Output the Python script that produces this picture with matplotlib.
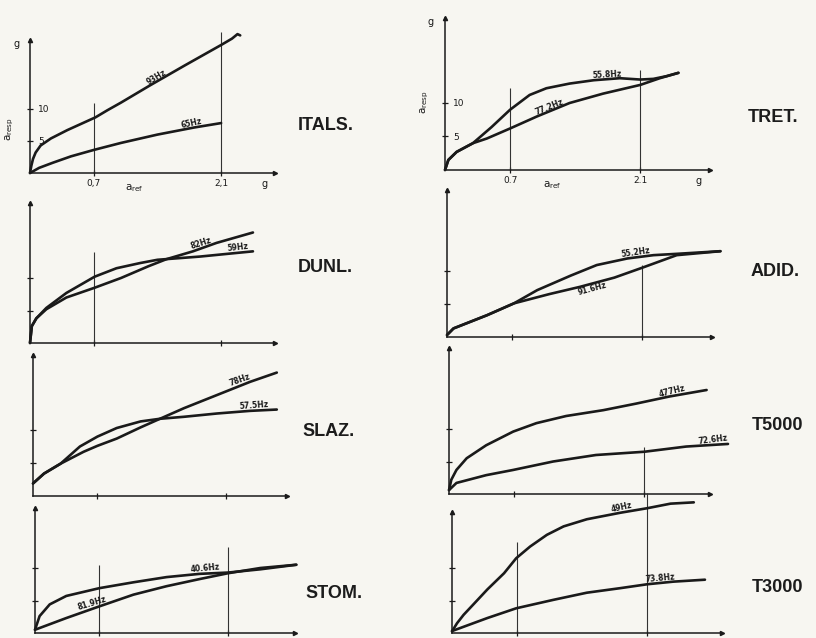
import matplotlib
matplotlib.use("Agg")
import matplotlib.pyplot as plt

W, H = 816, 638
BG = "#f7f6f1"
INK = "#1a1a1a"

# ---------------- data ----------------
# ITALS.
itals_93_x = [0, 0.015, 0.033, 0.062, 0.117, 0.23, 0.41, 0.72, 0.85, 1.00, 1.32, 1.70, 2.10, 2.22, 2.28, 2.31]
itals_93_y = [0, 1.15, 2.2, 3.2, 4.3, 5.4, 6.7, 8.7, 9.8, 11.0, 13.7, 16.8, 20.0, 21.0, 21.7, 21.5]
itals_65_x = [0, 0.10, 0.25, 0.45, 0.70, 1.00, 1.40, 1.80, 2.10]
itals_65_y = [0, 0.8, 1.6, 2.6, 3.6, 4.7, 6.0, 7.1, 7.8]

# TRET.
tret_558_x = [0, 0.036, 0.125, 0.30, 0.50, 0.70, 0.91, 1.09, 1.34, 1.60, 1.88, 2.10, 2.24, 2.38, 2.51]
tret_558_y = [0, 1.5, 2.7, 4.0, 6.4, 9.0, 11.2, 12.2, 12.9, 13.4, 13.7, 13.5, 13.6, 14.0, 14.5]
tret_772_x = [0, 0.036, 0.125, 0.30, 0.45, 0.70, 0.99, 1.34, 1.70, 2.10, 2.31, 2.51]
tret_772_y = [0, 1.5, 2.7, 4.0, 4.7, 6.2, 8.0, 10.0, 11.4, 12.7, 13.7, 14.5]

# DUNL.
dunl_59_x = [0, 0.02, 0.07, 0.18, 0.40, 0.71, 0.95, 1.21, 1.40, 1.87, 2.23, 2.45]
dunl_59_y = [0, 2.6, 3.8, 5.4, 7.7, 10.2, 11.5, 12.3, 12.8, 13.3, 13.8, 14.1]
dunl_82_x = [0, 0.02, 0.07, 0.18, 0.40, 0.71, 1.00, 1.30, 1.50, 1.79, 2.05, 2.45]
dunl_82_y = [0, 2.6, 3.8, 5.2, 7.0, 8.5, 10.0, 11.8, 12.9, 14.1, 15.4, 17.0]

# ADID.
adid_552_x = [0, 0.07, 0.43, 0.72, 0.97, 1.33, 1.61, 1.94, 2.22, 2.47, 2.94]
adid_552_y = [0.3, 1.3, 3.3, 5.1, 7.1, 9.3, 10.9, 11.9, 12.4, 12.6, 13.0]
adid_916_x = [0, 0.07, 0.43, 0.72, 1.10, 1.43, 1.80, 2.10, 2.47, 2.94]
adid_916_y = [0.3, 1.3, 3.3, 5.1, 6.5, 7.6, 9.0, 10.5, 12.4, 13.0]

# SLAZ.
slaz_575_x = [0, 0.12, 0.30, 0.51, 0.70, 0.91, 1.17, 1.38, 1.64, 2.00, 2.36, 2.65]
slaz_575_y = [1.9, 3.4, 4.9, 7.5, 9.0, 10.3, 11.3, 11.7, 12.0, 12.5, 12.9, 13.1]
slaz_78_x = [0, 0.12, 0.30, 0.55, 0.70, 0.91, 1.17, 1.38, 1.64, 2.00, 2.36, 2.65]
slaz_78_y = [1.9, 3.4, 4.9, 6.7, 7.6, 8.7, 10.4, 11.7, 13.3, 15.3, 17.3, 18.7]

# T5000
t5_477_x = [0, 0.025, 0.08, 0.19, 0.40, 0.69, 0.94, 1.26, 1.66, 2.01, 2.37, 2.77]
t5_477_y = [0.6, 2.2, 3.7, 5.5, 7.5, 9.6, 10.9, 12.0, 12.9, 13.9, 15.0, 16.0]
t5_726_x = [0, 0.08, 0.40, 0.69, 1.12, 1.58, 2.10, 2.55, 3.00]
t5_726_y = [0.6, 1.7, 2.9, 3.7, 5.0, 6.0, 6.5, 7.3, 7.7]

# STOM.
stom_406_x = [0, 0.05, 0.16, 0.34, 0.70, 1.07, 1.43, 1.79, 2.10, 2.45, 2.84]
stom_406_y = [0.5, 2.6, 4.4, 5.7, 6.9, 7.8, 8.6, 9.1, 9.3, 9.8, 10.5]
stom_819_x = [0, 0.34, 0.70, 1.07, 1.43, 1.79, 2.10, 2.45, 2.84]
stom_819_y = [0.5, 2.3, 4.1, 5.9, 7.2, 8.3, 9.2, 10.0, 10.5]

# T3000
t3_49_x = [0, 0.054, 0.125, 0.23, 0.38, 0.56, 0.69, 0.84, 1.02, 1.20, 1.45, 1.81, 2.10, 2.35, 2.60]
t3_49_y = [0.26, 1.5, 2.8, 4.4, 6.7, 9.2, 11.5, 13.3, 15.1, 16.4, 17.5, 18.5, 19.2, 19.9, 20.1]
t3_738_x = [0, 0.38, 0.69, 1.09, 1.45, 1.81, 2.10, 2.38, 2.72]
t3_738_y = [0.3, 2.3, 3.8, 5.1, 6.2, 6.9, 7.5, 7.9, 8.2]

panel_names = ["ITALS.", "TRET.", "DUNL.", "ADID.", "SLAZ.", "T5000", "STOM.", "T3000"]
x_ticks = [0.7, 2.1]
y_ticks = [5, 10]

# ---------------- layout ----------------
# (origin px x, origin px y, x-axis end px, y-axis top px, px per g in x, px per g in y)
geo = [
    (30, 173, 275, 40, 91, 6.4),
    (445, 170, 710, 18, 93, 6.7),
    (30, 343, 275, 203, 91, 6.5),
    (447, 337, 712, 190, 93, 6.6),
    (33, 496, 287, 355, 92, 6.6),
    (449, 494, 710, 348, 93, 6.5),
    (35, 633, 295, 508, 92, 6.5),
    (452, 633, 722, 512, 93, 6.5),
]
name_pos = [(298, 126), (748, 117), (298, 268), (751, 271),
            (302, 432), (752, 425), (305, 594), (752, 588)]

curves = [
    [(itals_93_x, itals_93_y, "93Hz", 1.42, 14.3, 31), (itals_65_x, itals_65_y, "65Hz", 1.78, 7.1, 12)],
    [(tret_558_x, tret_558_y, "55.8Hz", 1.74, 13.6, 3), (tret_772_x, tret_772_y, "77.2Hz", 1.14, 8.75, 22)],
    [(dunl_82_x, dunl_82_y, "82Hz", 1.90, 14.7, 18), (dunl_59_x, dunl_59_y, "59Hz", 2.29, 14.0, 6)],
    [(adid_552_x, adid_552_y, "55.2Hz", 2.04, 12.1, 8), (adid_916_x, adid_916_y, "91.6Hz", 1.57, 6.6, 15)],
    [(slaz_78_x, slaz_78_y, "78Hz", 2.27, 17.0, 20), (slaz_575_x, slaz_575_y, "57.5Hz", 2.41, 13.0, 4)],
    [(t5_477_x, t5_477_y, "477Hz", 2.41, 15.2, 14), (t5_726_x, t5_726_y, "72.6Hz", 2.84, 7.6, 7)],
    [(stom_406_x, stom_406_y, "40.6Hz", 1.85, 9.2, 5), (stom_819_x, stom_819_y, "81.9Hz", 0.63, 3.85, 17)],
    [(t3_49_x, t3_49_y, "49Hz", 1.83, 18.6, 12), (t3_738_x, t3_738_y, "73.8Hz", 2.24, 7.75, 5)],
]
# vertical guide lines: (x, top y in g)
guides = [
    [(0.7, 11.0), (2.1, 22.0)],
    [(0.7, 12.2), (2.1, 14.9)],
    [(0.7, 14.0)],
    [(2.1, 10.9)],
    [],
    [(2.1, 7.2)],
    [(0.7, 10.5), (2.1, 13.2)],
    [(0.7, 14.0), (2.1, 21.5)],
]

fig = plt.figure(figsize=(W / 100, H / 100), dpi=100, facecolor=BG)

for i, (ox, oy, xend, ytop, sx, sy) in enumerate(geo):
    ax = fig.add_axes([ox / W, (H - oy) / H, (xend - ox) / W, (oy - ytop) / H])
    ax.set_facecolor("none")
    xmax = (xend - ox) / sx
    ymax = (oy - ytop) / sy
    ax.set_xlim(0, xmax)
    ax.set_ylim(0, ymax)
    for s in ("top", "right"):
        ax.spines[s].set_visible(False)
    for s in ("left", "bottom"):
        ax.spines[s].set_linewidth(1.1)
        ax.spines[s].set_color(INK)
    ax.plot(1, 0, ">", color=INK, ms=3, transform=ax.get_yaxis_transform(), clip_on=False)
    ax.plot(0, 1, "^", color=INK, ms=3, transform=ax.get_xaxis_transform(), clip_on=False)
    ax.set_xticks(x_ticks)
    ax.set_yticks(y_ticks)
    ax.tick_params(direction="inout", length=4, width=0.9, color=INK, labelsize=6.5,
                   labelcolor=INK, pad=2)
    if i in (0, 1):
        ax.set_xticklabels(["0,7", "2,1"] if i == 0 else ["0.7", "2.1"])
        ax.set_yticklabels(["5", "10"])
        ax.tick_params(axis="y", pad=-8, labelsize=6.5)
        for lab in ax.get_yticklabels():
            lab.set_horizontalalignment("left")
        ax.text(xmax - 0.12, -0.9, "g", fontsize=7, ha="center", va="top", color=INK)
        ax.text(-0.15, ymax - 0.6, "g", fontsize=7, ha="center", va="center", color=INK)
        ax.text(1.15, -1.4, r"$\mathrm{a}_{\mathrm{ref}}$", fontsize=7.5, ha="center", va="top", color=INK)
        ax.text(-0.22, 6.8 if i == 0 else 10.2, r"$\mathrm{a}_{\mathrm{resp}}$", fontsize=7.5,
                rotation=90, ha="center", va="center", color=INK)
    else:
        ax.set_xticklabels([])
        ax.set_yticklabels([])

    for gx, gy in guides[i]:
        ax.vlines(gx, 0, gy, color="#333333", lw=0.8, clip_on=False)

    for xs, ys, lab, tx, ty, rot in curves[i]:
        ax.plot(xs, ys, color=INK, lw=1.9, solid_capstyle="round", solid_joinstyle="round",
                clip_on=False)
        ax.text(tx, ty, lab, fontsize=5.5, fontweight="bold", rotation=rot,
                rotation_mode="anchor", ha="center", va="bottom", color=INK)

for name, (px, py) in zip(panel_names, name_pos):
    fig.text(px / W, 1 - py / H, name, fontsize=13, fontweight="bold", family="Liberation Sans",
             ha="left", va="center", color="#1c1c1c")

fig.savefig("out.png", dpi=100, facecolor=BG)
